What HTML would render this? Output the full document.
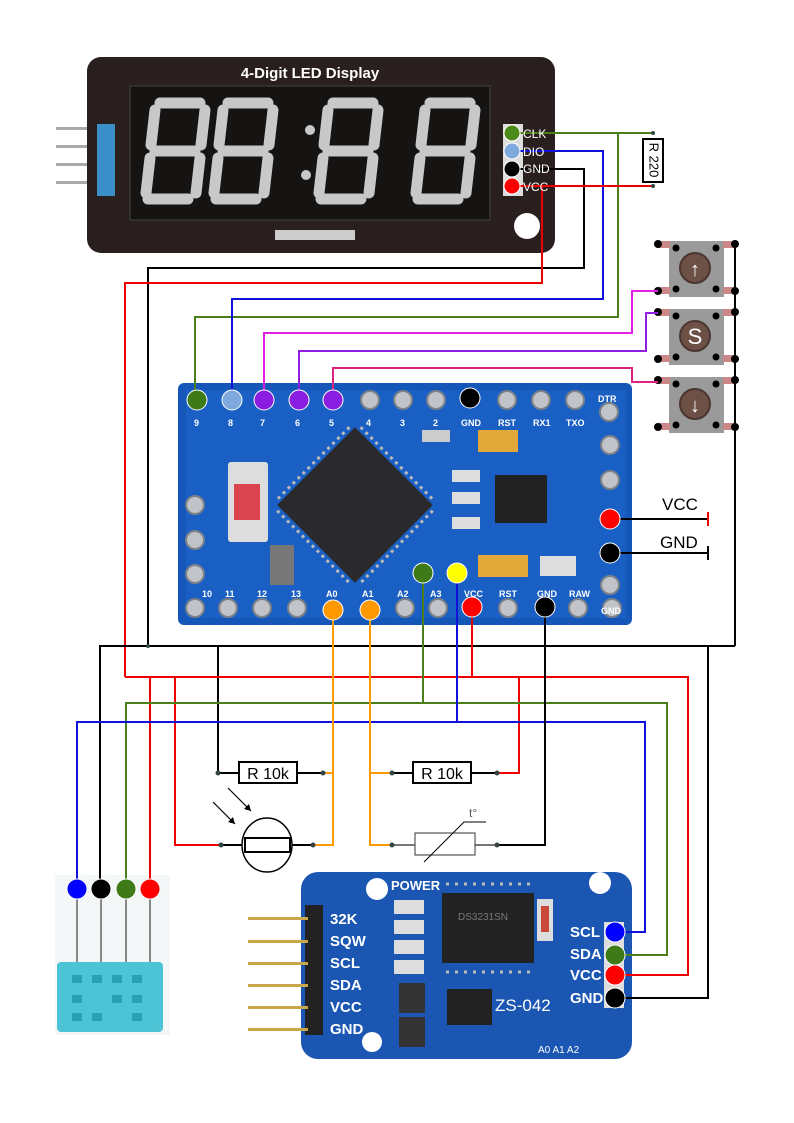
<!DOCTYPE html>
<html><head><meta charset="utf-8"><style>
html,body{margin:0;padding:0;background:#fff}
svg{display:block}
text{font-family:"Liberation Sans",sans-serif}
</style></head><body>
<svg width="794" height="1123" viewBox="0 0 794 1123" xmlns="http://www.w3.org/2000/svg">
<!-- ===== LED display ===== -->
<g>
<rect x="56" y="127" width="45" height="3" fill="#aaa"/>
<rect x="56" y="145" width="45" height="3" fill="#aaa"/>
<rect x="56" y="163" width="45" height="3" fill="#aaa"/>
<rect x="56" y="181" width="45" height="3" fill="#aaa"/>
<rect x="87" y="57" width="468" height="196" rx="14" fill="#2a1f1f"/>
<rect x="97" y="124" width="18" height="72" fill="#3a8fc8"/>
<rect x="130" y="86" width="360" height="134" fill="#161313" stroke="#444"/>
<text x="310" y="78" font-size="15" font-weight="bold" fill="#fff" text-anchor="middle">4-Digit LED Display</text>
<g stroke="#c8c8c8" stroke-width="11" stroke-linecap="round" fill="none">
<path d="M160 103h40M155 110l-4 35M205 110l-4 35M155 151h40M150 158l-4 35M200 158l-4 35M148 199h40"/>
<path d="M228 103h40M223 110l-4 35M273 110l-4 35M223 151h40M218 158l-4 35M268 158l-4 35M216 199h40"/>
<path d="M333 103h40M328 110l-4 35M378 110l-4 35M328 151h40M323 158l-4 35M373 158l-4 35M321 199h40"/>
<path d="M430 103h40M425 110l-4 35M475 110l-4 35M425 151h40M420 158l-4 35M470 158l-4 35M418 199h40"/>
</g>
<circle cx="310" cy="130" r="5" fill="#c8c8c8"/><circle cx="306" cy="175" r="5" fill="#c8c8c8"/>
<rect x="275" y="230" width="80" height="10" fill="#ccc"/>
<circle cx="527" cy="226" r="13" fill="#fff"/>
<rect x="503" y="124" width="20" height="72" fill="#ddd"/>
</g>
<!-- R220 -->
<rect x="643" y="139" width="20" height="43" fill="#fff" stroke="#000" stroke-width="2"/>
<text x="653" y="160" font-size="13" transform="rotate(90 653 160)" text-anchor="middle" dominant-baseline="middle">R 220</text>
<!-- Buttons -->
<g>
<line x1="735" y1="243" x2="735" y2="646" stroke="#000" stroke-width="2"/>
<g id="b1">
<rect x="669" y="241" width="55" height="56" fill="#9a9a9a"/>
<rect x="658" y="241" width="12" height="7" fill="#c88"/><rect x="658" y="287" width="12" height="7" fill="#c88"/>
<rect x="723" y="241" width="12" height="7" fill="#c88"/><rect x="723" y="287" width="12" height="7" fill="#c88"/>
<circle cx="658" cy="244" r="4"/><circle cx="735" cy="244" r="4"/><circle cx="658" cy="291" r="4"/><circle cx="735" cy="291" r="4"/>
<circle cx="676" cy="248" r="3.5"/><circle cx="716" cy="248" r="3.5"/><circle cx="676" cy="289" r="3.5"/><circle cx="716" cy="289" r="3.5"/>
<circle cx="695" cy="268" r="15" fill="#6e5146" stroke="#4a3530" stroke-width="2"/>
</g>
<use href="#b1" y="68"/>
<use href="#b1" y="136"/>
<text x="695" y="276" font-size="20" fill="#fff" text-anchor="middle">↑</text>
<text x="695" y="344" font-size="22" fill="#fff" text-anchor="middle">S</text>
<text x="695" y="412" font-size="20" fill="#fff" text-anchor="middle">↓</text>
</g>
<!-- ===== Arduino ===== -->
<g>
<rect x="178" y="383" width="454" height="242" rx="6" fill="#1457b8"/>
<rect x="186" y="390" width="440" height="228" fill="#1a5fc4"/>
<g fill="#c0c4c8" stroke="#7a8088" stroke-width="2">
<circle cx="370" cy="400" r="9"/><circle cx="403" cy="400" r="9"/><circle cx="436" cy="400" r="9"/><circle cx="507" cy="400" r="9"/><circle cx="541" cy="400" r="9"/><circle cx="575" cy="400" r="9"/><circle cx="609" cy="412" r="9"/>
<circle cx="195" cy="608" r="9"/><circle cx="228" cy="608" r="9"/><circle cx="262" cy="608" r="9"/><circle cx="297" cy="608" r="9"/><circle cx="405" cy="608" r="9"/><circle cx="438" cy="608" r="9"/><circle cx="508" cy="608" r="9"/><circle cx="578" cy="608" r="9"/><circle cx="612" cy="608" r="9"/>
<circle cx="195" cy="505" r="9"/><circle cx="195" cy="540" r="9"/><circle cx="195" cy="574" r="9"/>
<circle cx="610" cy="445" r="9"/><circle cx="610" cy="480" r="9"/><circle cx="610" cy="585" r="9"/>
</g>
<g fill="#fff" font-size="9" font-weight="bold">
<text x="194" y="426">9</text><text x="228" y="426">8</text><text x="260" y="426">7</text><text x="295" y="426">6</text><text x="329" y="426">5</text><text x="366" y="426">4</text><text x="400" y="426">3</text><text x="433" y="426">2</text><text x="461" y="426">GND</text><text x="498" y="426">RST</text><text x="533" y="426">RX1</text><text x="566" y="426">TXO</text><text x="598" y="402">DTR</text>
<text x="202" y="597">10</text><text x="225" y="597">11</text><text x="257" y="597">12</text><text x="291" y="597">13</text><text x="326" y="597">A0</text><text x="362" y="597">A1</text><text x="397" y="597">A2</text><text x="430" y="597">A3</text><text x="464" y="597">VCC</text><text x="499" y="597">RST</text><text x="537" y="597">GND</text><text x="569" y="597">RAW</text><text x="601" y="614">GND</text>
</g>
<rect x="228" y="462" width="40" height="80" rx="3" fill="#ddd"/>
<rect x="234" y="484" width="26" height="36" fill="#d9444f"/>
<g transform="rotate(45 355 505)">
<rect x="300" y="450" width="110" height="110" fill="#2a2a2c"/>
<g stroke="#bbb" stroke-width="3" stroke-dasharray="3 4">
<line x1="304" y1="446" x2="408" y2="446"/><line x1="304" y1="564" x2="408" y2="564"/>
<line x1="296" y1="454" x2="296" y2="558"/><line x1="414" y1="454" x2="414" y2="558"/>
</g></g>
<rect x="478" y="430" width="40" height="22" fill="#e2a93a"/>
<rect x="478" y="555" width="50" height="22" fill="#e2a93a"/>
<rect x="495" y="475" width="52" height="48" fill="#222"/>
<rect x="452" y="470" width="28" height="12" fill="#ddd"/><rect x="452" y="492" width="28" height="12" fill="#ddd"/><rect x="452" y="517" width="28" height="12" fill="#ddd"/>
<rect x="422" y="430" width="28" height="12" fill="#ccc"/>
<rect x="270" y="545" width="24" height="40" fill="#777"/>
<rect x="540" y="556" width="36" height="20" fill="#ddd"/>
</g>
<!-- ===== RTC ===== -->
<g>
<path d="M318 872H615a17 17 0 0 1 17 17V1042a17 17 0 0 1-17 17H318a17 17 0 0 1-17-17V889a17 17 0 0 1 17-17z" fill="#1a56b2"/>
<circle cx="377" cy="889" r="11" fill="#fff"/><circle cx="600" cy="883" r="11" fill="#fff"/><circle cx="372" cy="1042" r="10" fill="#fff"/>
<rect x="305" y="905" width="18" height="130" fill="#222"/>
<g fill="#c9a64a"><rect x="248" y="917" width="60" height="3"/><rect x="248" y="940" width="60" height="3"/><rect x="248" y="962" width="60" height="3"/><rect x="248" y="984" width="60" height="3"/><rect x="248" y="1006" width="60" height="3"/><rect x="248" y="1028" width="60" height="3"/></g>
<g fill="#fff" font-size="15" font-weight="bold"><text x="330" y="924">32K</text><text x="330" y="946">SQW</text><text x="330" y="968">SCL</text><text x="330" y="990">SDA</text><text x="330" y="1012">VCC</text><text x="330" y="1034">GND</text>
<text x="391" y="890" font-size="13">POWER</text><text x="495" y="1011" font-size="17" font-weight="normal">ZS-042</text>
<text x="570" y="937">SCL</text><text x="570" y="959">SDA</text><text x="570" y="980">VCC</text><text x="570" y="1003">GND</text>
<text x="538" y="1053" font-size="10" font-weight="normal">A0 A1 A2</text></g>
<rect x="442" y="893" width="92" height="70" fill="#222"/>
<g stroke="#bbb" stroke-width="3" stroke-dasharray="3 6"><line x1="446" y1="884" x2="534" y2="884"/><line x1="446" y1="972" x2="534" y2="972"/></g>
<text x="458" y="920" font-size="10" fill="#777">DS3231SN</text>
<rect x="447" y="989" width="45" height="36" fill="#222"/>
<rect x="537" y="899" width="16" height="42" fill="#ddd"/><rect x="541" y="906" width="8" height="26" fill="#c94a3a"/>
<rect x="394" y="900" width="30" height="14" fill="#ddd"/><rect x="394" y="920" width="30" height="14" fill="#ddd"/><rect x="394" y="940" width="30" height="14" fill="#ddd"/><rect x="394" y="960" width="30" height="14" fill="#ddd"/>
<rect x="399" y="983" width="26" height="30" fill="#333"/><rect x="399" y="1017" width="26" height="30" fill="#333"/>
<rect x="604" y="922" width="20" height="86" fill="#ddd"/>
</g>
<!-- ===== DHT ===== -->
<rect x="55" y="875" width="115" height="160" fill="#f4f7f8"/>
<g stroke="#888" stroke-width="2"><line x1="77" y1="889" x2="77" y2="965"/><line x1="101" y1="889" x2="101" y2="965"/><line x1="126" y1="889" x2="126" y2="965"/><line x1="150" y1="889" x2="150" y2="965"/></g>
<rect x="57" y="962" width="106" height="70" rx="4" fill="#4dc3d6"/>
<g fill="#2aa0b6"><rect x="72" y="975" width="10" height="8"/><rect x="92" y="975" width="10" height="8"/><rect x="112" y="975" width="10" height="8"/><rect x="132" y="975" width="10" height="8"/><rect x="72" y="995" width="10" height="8"/><rect x="112" y="995" width="10" height="8"/><rect x="132" y="995" width="10" height="8"/><rect x="72" y="1013" width="10" height="8"/><rect x="92" y="1013" width="10" height="8"/><rect x="132" y="1013" width="10" height="8"/></g>

<!-- ===== Wires ===== -->
<g fill="none" stroke-width="2">
<polyline stroke="#4a7f1a" points="512,133 653,133"/>
<polyline stroke="#4a7f1a" points="618,133 618,317 195,317 195,400"/>
<polyline stroke="#1111dd" points="512,151 603,151 603,299 232,299 232,400"/>
<polyline stroke="#000" points="512,169 584,169 584,268 148,268 148,646"/>
<polyline stroke="#e00" points="512,186 653,186"/>
<polyline stroke="#e00" points="542,186 542,283 125,283 125,677"/>
<polyline stroke="#e020e0" points="658,291 632,291 632,333 264,333 264,400"/>
<polyline stroke="#9020e0" points="658,313 646,313 646,351 299,351 299,400"/>
<polyline stroke="#e02080" points="658,382 632,382 632,368 333,368 333,400"/>
<polyline stroke="#000" points="100,889 100,646 735,646"/>
<polyline stroke="#000" points="148,646 218,646 218,773 239,773"/>
<polyline stroke="#000" points="708,646 708,998 620,998"/>
<polyline stroke="#e00" points="125,677 688,677 688,975 620,975"/>
<polyline stroke="#e00" points="150,677 150,889"/>
<polyline stroke="#e00" points="175,677 175,845 221,845"/>
<polyline stroke="#e00" points="472,607 472,677"/>
<polyline stroke="#e00" points="519,677 519,773 497,773"/>
<polyline stroke="#4a7f1a" points="423,573 423,703"/>
<polyline stroke="#4a7f1a" points="126,889 126,703 667,703 667,955 620,955"/>
<polyline stroke="#1111dd" points="457,573 457,722"/>
<polyline stroke="#1111dd" points="77,889 77,722 645,722 645,932 620,932"/>
<polyline stroke="#f90" points="333,610 333,845 313,845"/>
<polyline stroke="#f90" points="333,773 323,773"/>
<polyline stroke="#f90" points="370,610 370,845 392,845"/>
<polyline stroke="#f90" points="370,773 392,773"/>
<polyline stroke="#000" points="545,607 545,845 497,845"/>
<polyline stroke="#000" points="620,519 708,519"/>
<polyline stroke="#000" points="620,553 708,553"/>
<line x1="708" y1="512" x2="708" y2="526" stroke="#e00"/>
<line x1="708" y1="546" x2="708" y2="560" stroke="#000"/>
<line x1="218" y1="773" x2="239" y2="773" stroke="#000"/>
<line x1="297" y1="773" x2="323" y2="773" stroke="#000"/>
<line x1="392" y1="773" x2="413" y2="773" stroke="#000"/>
<line x1="471" y1="773" x2="497" y2="773" stroke="#000"/>
<line x1="221" y1="845" x2="245" y2="845" stroke="#000"/>
<line x1="290" y1="845" x2="313" y2="845" stroke="#000"/>
<line x1="392" y1="845" x2="415" y2="845" stroke="#777"/>
<line x1="475" y1="845" x2="497" y2="845" stroke="#777"/>
</g>
<text x="662" y="510" font-size="17">VCC</text>
<text x="660" y="548" font-size="17">GND</text>
<!-- components -->
<rect x="239" y="762" width="58" height="21" fill="#fff" stroke="#000" stroke-width="2"/>
<text x="268" y="779" font-size="16" text-anchor="middle">R 10k</text>
<rect x="413" y="762" width="58" height="21" fill="#fff" stroke="#000" stroke-width="2"/>
<text x="442" y="779" font-size="16" text-anchor="middle">R 10k</text>
<ellipse cx="267" cy="845" rx="25" ry="27" fill="#fff" stroke="#000" stroke-width="1.5"/>
<rect x="245" y="838" width="45" height="14" fill="#fff" stroke="#000" stroke-width="2"/>
<g stroke="#000" stroke-width="1.2"><line x1="213" y1="802" x2="235" y2="824"/><line x1="228" y1="788" x2="251" y2="811"/></g>
<path d="M235 824l-7-2 5-5z M251 811l-7-2 5-5z" fill="#000"/>
<rect x="415" y="833" width="60" height="22" fill="#fff" stroke="#555" stroke-width="1.2"/>
<polyline points="424,862 464,822 486,822" fill="none" stroke="#000"/>
<text x="469" y="817" font-size="12" fill="#555">t°</text>
<!-- dots -->
<g fill="#344">
<circle cx="653" cy="133" r="2"/><circle cx="653" cy="186" r="2"/><circle cx="148" cy="646" r="2"/>
<circle cx="218" cy="773" r="2.5"/><circle cx="323" cy="773" r="2.5"/><circle cx="392" cy="773" r="2.5"/><circle cx="497" cy="773" r="2.5"/>
<circle cx="221" cy="845" r="2.5"/><circle cx="313" cy="845" r="2.5"/><circle cx="392" cy="845" r="2.5"/><circle cx="497" cy="845" r="2.5"/>
</g>
<!-- colored pin circles -->
<g stroke="#fff" stroke-width="1">
<circle cx="512" cy="133" r="8" fill="#4a8a1a"/><circle cx="512" cy="151" r="8" fill="#7fa8dc"/><circle cx="512" cy="169" r="8" fill="#000"/><circle cx="512" cy="186" r="8" fill="#f00"/>
<circle cx="197" cy="400" r="10" fill="#3e7a18"/><circle cx="232" cy="400" r="10" fill="#7fa8dc"/><circle cx="264" cy="400" r="10" fill="#8a1ee0"/><circle cx="299" cy="400" r="10" fill="#8a1ee0"/><circle cx="333" cy="400" r="10" fill="#8a1ee0"/><circle cx="470" cy="398" r="10" fill="#000"/>
<circle cx="333" cy="610" r="10" fill="#f90"/><circle cx="370" cy="610" r="10" fill="#f90"/><circle cx="472" cy="607" r="10" fill="#f00"/><circle cx="545" cy="607" r="10" fill="#000"/>
<circle cx="423" cy="573" r="10" fill="#3e7a18"/><circle cx="457" cy="573" r="10" fill="#ff0"/>
<circle cx="610" cy="519" r="10" fill="#f00"/><circle cx="610" cy="553" r="10" fill="#000"/>
<circle cx="77" cy="889" r="10" fill="#00f"/><circle cx="101" cy="889" r="10" fill="#000"/><circle cx="126" cy="889" r="10" fill="#3e7a18"/><circle cx="150" cy="889" r="10" fill="#f00"/>
<circle cx="615" cy="932" r="10" fill="#00f"/><circle cx="615" cy="955" r="10" fill="#3e7a18"/><circle cx="615" cy="975" r="10" fill="#f00"/><circle cx="615" cy="998" r="10" fill="#000"/>
</g>
<g fill="#fff" font-size="12"><text x="523" y="138">CLK</text><text x="523" y="156">DIO</text><text x="523" y="173">GND</text><text x="523" y="191">VCC</text></g>
</svg>
</body></html>
